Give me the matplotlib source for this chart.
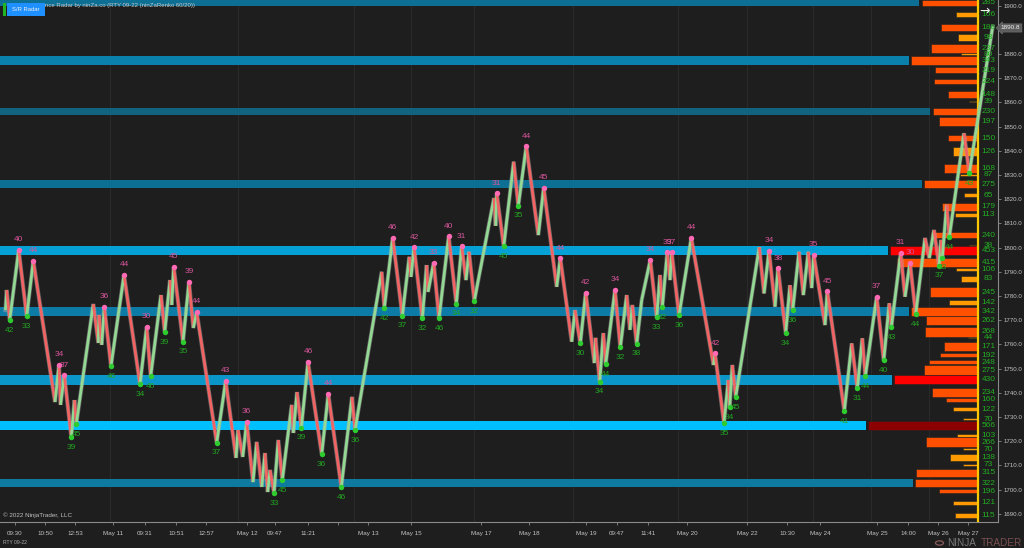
import matplotlib
matplotlib.use("Agg")
import matplotlib.pyplot as plt
from matplotlib.patches import Circle, Rectangle

plt.rcParams['font.family'] = ['Liberation Sans', 'DejaVu Sans']

# price path, x is the chart position of the renko bar
path_x = [5.5, 6.7, 9.7, 18.7, 26.7, 33.3, 55, 59, 60.5, 64.3, 71.3, 74.5, 76.3, 93.3, 98.3, 99, 101.7, 104.3,
          111, 124, 140, 146.7, 150.7, 161, 164.7, 170, 171.7, 173.7, 183, 189, 193.3, 196.7, 216.7, 225.7,
          236, 238, 242.7, 246.7, 253, 256.7, 261.7, 265, 267.7, 270, 274, 278.3, 282.3, 291.7, 293.3, 297,
          301.3, 308, 321.7, 328.3, 341.3, 352, 355, 381.7, 384.3, 392.7, 402.3, 409.3, 411, 414, 422.3,
          426.7, 428, 433.7, 439, 448.7, 456.3, 461.7, 466, 469, 474.3, 494, 495.7, 496.7, 503.7, 513.7,
          518.3, 526.3, 538.3, 543.7, 556.7, 560.3, 571.7, 575, 580.3, 585.7, 594.3, 595.5, 599.7, 603.3,
          605.7, 615, 620.3, 626.7, 630, 632.3, 636.7, 641.7, 650.3, 656.7, 660, 662.3, 667.3, 670, 671.7,
          679, 691.3, 713.5, 715, 724, 728.3, 729.7, 732.3, 735.7, 759.3, 764, 769, 775, 778, 785.7, 790,
          792.7, 799, 803.3, 808.3, 811.7, 813.7, 825, 827.3, 844.3, 851.7, 857.3, 862.3, 865.3, 876.7,
          883.7, 889.3, 891.3, 900.7, 905, 910, 915.7, 925, 929.3, 934, 939, 941, 942.3, 946.7, 949.3, 964,
          969.3, 992.7]
path_price = [1774.2, 1782.5, 1770.1, 1799.0, 1771.7, 1794.5, 1736.2, 1751.5, 1735.0, 1747.3, 1721.7, 1737.0,
              1727.1, 1776.7, 1760.6, 1772.2, 1759.8, 1775.5, 1751.1, 1788.7, 1743.6, 1767.3, 1747.0, 1780.4,
              1765.1, 1786.6, 1776.3, 1792.1, 1761.1, 1785.8, 1766.8, 1773.4, 1719.4, 1744.9, 1713.1, 1724.6,
              1713.5, 1728.0, 1703.1, 1719.7, 1701.1, 1715.1, 1699.0, 1708.1, 1698.6, 1720.5, 1704.0, 1735.0,
              1723.4, 1740.3, 1725.6, 1752.7, 1714.7, 1739.5, 1701.1, 1738.3, 1724.6, 1790.0, 1775.1, 1804.1,
              1771.9, 1796.2, 1787.9, 1800.2, 1770.9, 1792.8, 1781.7, 1793.8, 1770.9, 1804.7, 1776.8, 1800.5,
              1786.6, 1798.3, 1778.0, 1820.5, 1809.0, 1822.5, 1800.5, 1835.5, 1817.3, 1841.9, 1805.2, 1824.8,
              1783.8, 1795.6, 1761.1, 1774.2, 1760.4, 1781.4, 1752.3, 1762.7, 1744.6, 1764.7, 1751.9, 1782.5,
              1758.8, 1780.4, 1766.0, 1776.3, 1760.3, 1778.4, 1794.9, 1771.2, 1788.7, 1775.5, 1798.1, 1786.6,
              1798.1, 1772.0, 1804.0, 1751.5, 1756.3, 1727.4, 1745.3, 1734.0, 1751.5, 1738.3, 1800.2, 1781.1,
              1798.6, 1775.6, 1791.5, 1764.7, 1784.5, 1774.2, 1798.3, 1780.4, 1798.3, 1783.3, 1797.0, 1768.0,
              1782.0, 1732.5, 1760.4, 1741.8, 1762.5, 1746.8, 1779.7, 1753.4, 1777.0, 1767.0, 1797.8, 1779.7,
              1793.8, 1772.6, 1804.0, 1795.7, 1807.3, 1792.6, 1803.2, 1795.9, 1817.7, 1804.4, 1847.3, 1830.9,
              1891.4]

# swing points
high_x = [18.7, 33.3, 59, 64.3, 104.3, 124, 146.7, 173.7, 189, 196.7, 225.7, 246.7, 308, 328.3, 392.7, 414, 433.7,
          448.7, 461.7, 496.7, 526.3, 543.7, 560.3, 585.7, 615, 650.3, 667.3, 671.7, 691.3, 715, 769, 778, 813.7,
          827.3, 876.7, 900.7, 910]
high_price = [1799.0, 1794.5, 1751.5, 1747.3, 1775.5, 1788.7, 1767.3, 1792.1, 1785.8, 1773.4, 1744.9, 1728.0, 1752.7,
              1739.5, 1804.1, 1800.2, 1793.8, 1804.7, 1800.5, 1822.5, 1841.9, 1824.8, 1795.6, 1781.4, 1782.5, 1794.9,
              1798.1, 1798.1, 1804.0, 1756.3, 1798.6, 1791.5, 1797.0, 1782.0, 1779.7, 1797.8, 1793.8]
high_label = [40, 44, 34, 37, 36, 44, 30, 45, 39, 44, 43, 36, 46, 44, 46, 42, 33, 40, 31, 31, 44, 45, 44, 42, 34, 34,
              39, 37, 44, 42, 34, 38, 35, 45, 37, 31, 30]

low_x = [9.7, 26.7, 71.3, 76.3, 111, 140, 150.7, 164.7, 183, 216.7, 274, 282.3, 301.3, 321.7, 341.3, 355, 384.3, 402.3,
         422.3, 439, 456.3, 474.3, 503.7, 518.3, 580.3, 599.7, 605.7, 620.3, 636.7, 656.7, 662.3, 679, 724, 729.7,
         735.7, 785.7, 792.7, 844.3, 857.3, 865.3, 883.7, 891.3, 915.7, 939, 942.3, 949.3, 969.3]
low_price = [1770.1, 1771.7, 1721.7, 1727.1, 1751.1, 1743.6, 1747.0, 1765.1, 1761.1, 1719.4, 1698.6, 1704.0, 1725.6,
             1714.7, 1701.1, 1724.6, 1775.1, 1771.9, 1770.9, 1770.9, 1776.8, 1778.0, 1800.5, 1817.3, 1760.4, 1744.6,
             1751.9, 1758.8, 1760.3, 1771.2, 1775.5, 1772.0, 1727.4, 1734.0, 1738.3, 1764.7, 1774.2, 1732.5, 1741.8,
             1746.8, 1753.4, 1767.0, 1772.6, 1792.6, 1795.9, 1804.4, 1830.9]
low_label = [42, 33, 39, 45, 46, 34, 46, 39, 35, 37, 33, 45, 39, 36, 46, 36, 42, 37, 32, 46, 34, 32, 45, 35, 30, 34,
             44, 32, 38, 33, 32, 36, 35, 34, 45, 34, 36, 41, 31, 44, 40, 43, 44, 37, 33, 44, 43]

# support / resistance zones
band_price = [1901.2, 1877.3, 1856.2, 1826.3, 1798.7, 1773.6, 1745.3, 1726.4, 1702.7]
band_height = [2.3, 3.7, 3.1, 3.3, 3.6, 3.7, 4.1, 3.7, 3.3]
band_end = [919.3, 909, 930.3, 921.7, 887.7, 909, 892.3, 866, 912.7]
band_color = ['#0e6f94', '#0a80ad', '#106480', '#0e6f94', '#05a0d5', '#0c7ca6', '#0a96c8', '#00bfff', '#0e7aa0']

# volume profile
level_price = [1901.2, 1896.2, 1890.9, 1886.9, 1882.3, 1880.0, 1877.3, 1873.4, 1868.6, 1863.4, 1860.4, 1856.3, 1852.1,
               1845.3, 1839.7, 1832.7, 1830.1, 1826.3, 1821.7, 1816.8, 1813.5, 1805.1, 1800.9, 1798.7, 1794.0, 1791.0,
               1787.1, 1781.6, 1777.3, 1773.7, 1769.9, 1765.2, 1762.8, 1759.2, 1755.6, 1752.7, 1749.4, 1745.4, 1740.1,
               1737.1, 1733.2, 1729.1, 1726.5, 1722.3, 1719.6, 1716.7, 1713.3, 1710.2, 1706.9, 1702.7, 1699.3, 1694.5,
               1689.2]
level_height = [2.3, 2.1, 3.1, 2.9, 3.7, 0.8, 3.7, 2.5, 1.9, 2.7, 0.8, 2.9, 3.7, 2.5, 3.7, 3.7, 0.6, 3.3, 1.4, 3.2, 1.4,
                2.5, 0.4, 3.8, 3.7, 1.0, 2.6, 3.9, 1.8, 3.6, 4.0, 4.0, 0.7, 3.8, 1.4, 1.7, 4.1, 3.8, 3.5, 1.4, 1.8, 0.8,
                3.6, 1.2, 3.9, 1.0, 2.8, 0.7, 3.3, 3.3, 1.8, 1.4, 2.2]
level_volume = [285, 106, 186, 98, 237, 80, 343, 219, 224, 148, 39, 230, 197, 150, 126, 168, 87, 275, 65, 179, 113, 240,
                38, 453, 415, 106, 83, 245, 142, 342, 262, 268, 44, 171, 192, 248, 275, 430, 234, 160, 122, 70, 566, 103,
                266, 70, 138, 73, 315, 322, 196, 121, 115]

tick_x = [15, 45, 75, 113, 145, 176, 206, 247, 275, 308, 338, 368, 411, 481, 529, 586, 617, 648, 687, 747, 787, 820,
          877, 908, 938, 968]
tick_text = ['09:30', '10:50', '12:53', 'May 11', '09:31', '10:51', '12:57', 'May 12', '09:47', '11:21', '', 'May 13',
             'May 15', 'May 17', 'May 18', 'May 19', '09:47', '11:41', 'May 20', 'May 22', '10:30', 'May 24', 'May 25',
             '14:00', 'May 26', 'May 27']
session_x = [110, 238.3, 354, 410.7, 474.3, 573, 678.3, 747.3, 813, 871, 929.3]
price_ticks = list(range(1690, 1901, 10))
last_price = 1890.8

BG = '#1e1e1e'
PROFILE_RIGHT = 976.7
PX_PER_VOL = 0.192


def level_color(v):
    if v >= 500:
        return '#8b0000'
    if v >= 430:
        return '#ff0000'
    if v >= 145:
        return '#ff5000'
    return '#ff9a00'


fig = plt.figure(figsize=(10.24, 5.48), dpi=100, facecolor=BG)
ax = fig.add_axes([0, 26 / 548, 998 / 1024, 522 / 548], facecolor=BG)
ax.set_xlim(0, 998)
ax.set_ylim(1686.6, 1902.36)

for x in session_x:
    ax.axvline(x, color='#2b2b2b', lw=0.7, zorder=1)

ax.barh(band_price, band_end, height=band_height, color=band_color, zorder=2)

widths = [v * PX_PER_VOL for v in level_volume]
lefts = [PROFILE_RIGHT - w for w in widths]
ax.barh(level_price, widths, left=lefts, height=level_height, color=[level_color(v) for v in level_volume],
        edgecolor='#222222', linewidth=0.4, zorder=2)
ax.axvline(977.7, color='#ffc800', lw=1.6, zorder=3)

# renko path, grey bricks behind the coloured bodies
ax.plot(path_x, path_price, color='#a8a8a8', lw=3.0, alpha=0.5, zorder=4, solid_joinstyle='miter')
for i in range(len(path_x) - 1):
    up = path_price[i + 1] > path_price[i]
    ax.plot(path_x[i:i + 2], path_price[i:i + 2], color='#93d893' if up else '#f26464', lw=2.0, zorder=5,
            solid_capstyle='butt')

ax.plot(high_x, high_price, 'o', ms=3.9, color='#ff69b4', mew=0, zorder=6)
ax.plot(low_x, low_price, 'o', ms=3.9, color='#2ecc2e', mew=0, zorder=6)
for x, p, t in zip(high_x, high_price, high_label):
    ax.annotate(str(t), (x, p), xytext=(0, 7.3), textcoords='offset points', ha='center', va='center',
                fontsize=6, color='#d9559b', zorder=7)
for x, p, t in zip(low_x, low_price, low_label):
    ax.annotate(str(t), (x, p), xytext=(0, -7.3), textcoords='offset points', ha='center', va='center',
                fontsize=6, color='#22a522', zorder=7)

for p, v in zip(level_price, level_volume):
    ax.text(988.5, p, str(v), ha='center', va='center', fontsize=6, color='#22ac22', zorder=7, clip_on=False)

# axes
for s in ['top', 'left']:
    ax.spines[s].set_visible(False)
for s in ['bottom', 'right']:
    ax.spines[s].set_color('#8a8a8a')
    ax.spines[s].set_linewidth(0.8)
ax.yaxis.tick_right()
ax.set_yticks(price_ticks)
ax.set_yticklabels([f'{p:.1f}' for p in price_ticks])
ax.set_xticks(tick_x)
ax.set_xticklabels(tick_text)
ax.tick_params(axis='y', length=2.5, width=0.6, color='#8a8a8a', labelcolor='#c4c4c4', labelsize=4.4, pad=1.5)
ax.tick_params(axis='x', length=2.2, width=0.6, color='#8a8a8a', labelcolor='#c4c4c4', labelsize=4.5, pad=4)

# last price tag and arrow
ax.annotate(f'{last_price:.1f}', (1010.5, last_price), ha='center', va='center', fontsize=4.6, color='#f0f0f0',
            annotation_clip=False, zorder=9,
            bbox=dict(boxstyle='larrow,pad=0.25', fc='#5c5c5c', ec='#777777', lw=0.4))
ax.text(985, 1897.6, '\u2192', fontsize=9, color='#f0f0f0', ha='center', va='center', family='DejaVu Sans', zorder=9)

# header and footer
fig.add_artist(Rectangle((3 / 1024, 1 - 15.5 / 548), 3 / 1024, 12.5 / 548, transform=fig.transFigure, fc='#22b522', ec='none'))
fig.add_artist(Rectangle((7 / 1024, 1 - 15.5 / 548), 37.7 / 1024, 12.5 / 548, transform=fig.transFigure, fc='#1e90ff', ec='none'))
fig.text(25.8 / 1024, 1 - 9.3 / 548, 'S/R Radar', fontsize=4.2, color='#f0f0f0', ha='center', va='center')
fig.text(45 / 1024, 1 - 6 / 548, 'nce Radar by ninZa.co (RTY 09-22 (ninZaRenko 60/20))', fontsize=4.3,
         color='#c8c8c8', ha='left', va='center')
fig.text(3 / 1024, 1 - 515.5 / 548, '\u00a9 2022 NinjaTrader, LLC', fontsize=4.5, color='#c0c0c0', ha='left', va='center')
fig.text(3 / 1024, 1 - 543 / 548, 'RTY 09-22', fontsize=3.6, color='#b0b0b0', ha='left', va='center')
fig.text(947 / 1024, 1 - 543 / 548, 'NINJA', fontsize=7.2, color='#7a7a7a', ha='left', va='center')
fig.text(981 / 1024, 1 - 543 / 548, 'TRADER', fontsize=7.2, color='#7a5050', ha='left', va='center')
fig.add_artist(Circle((939.5 / 1024, 1 - 543 / 548), 4 / 1024, transform=fig.transFigure, fc='none', ec='#8a5a5a', lw=0.9))

fig.savefig('out.png', dpi=100, facecolor=BG)
